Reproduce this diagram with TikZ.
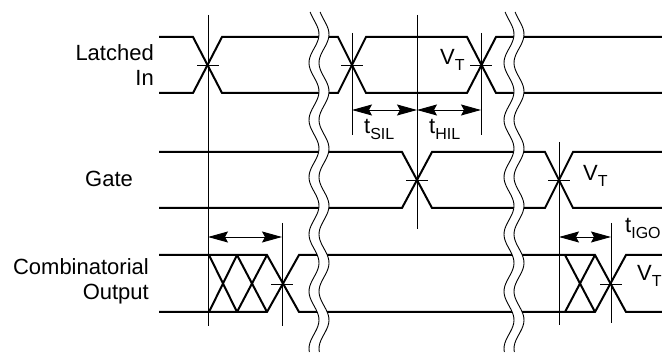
\documentclass[tikz,border=0pt]{standalone}
\usepackage{fontspec}
\setmainfont{Liberation Sans}
\usetikzlibrary{arrows.meta}
\newcommand{\lowtext}[1]{\raisebox{-6pt}{\fontsize{16}{16}\selectfont #1}}
\begin{document}
\begin{tikzpicture}[x=1pt,y=-1pt,
  sig/.style={line width=2pt, line join=miter},
  guide/.style={line width=0.9pt},
  dimarrow/.style={line width=0.9pt, {Stealth[length=20pt,width=11pt,inset=3pt]}-{Stealth[length=20pt,width=11pt,inset=3pt]}},
  lbl/.style={font=\fontsize{22}{25}\selectfont, inner sep=0pt},
  vt/.style={font=\fontsize{22}{24}\selectfont, inner sep=0pt, anchor=base west},
  wave/.style={line width=0.9pt}]
\useasboundingbox (0,0) rectangle (662,355);

% ---------- labels ----------
\node[lbl, align=right, anchor=east] (lin) at (154,65) {Latched\\In};
\node[lbl] (gate) at (109,179) {Gate};
\node[lbl, align=right, anchor=east] (cout) at (149,281) {Combinatorial\\Output};

% ---------- Latched In ----------
\draw[sig] (159,37)--(193,37)--(222,93)--(338,93)--(366,37)--(467,37)--(496,93)--(662,93);
\draw[sig] (159,93)--(193,93)--(222,37)--(338,37)--(366,93)--(467,93)--(496,37)--(662,37);

% ---------- Gate ----------
\draw[sig] (159,152)--(402,152)--(432,208)--(545,208)--(573,152)--(662,152);
\draw[sig] (159,208)--(402,208)--(432,152)--(545,152)--(573,208)--(662,208);

% ---------- Combinatorial Output ----------
\draw[sig] (159,255)--(267,255)--(299,312)--(595,312)--(626,255)--(662,255);
\draw[sig] (159,312)--(267,312)--(299,255)--(595,255)--(626,312)--(662,312);
\draw[sig] (209,255)--(237,312) (209,312)--(237,255) (237,255)--(267,312) (237,312)--(267,255);
\draw[sig] (565,255)--(595,312) (565,312)--(595,255);

% ---------- reference lines ----------
\coordinate (a1) at (208,15);  \coordinate (a2) at (208,326);
\coordinate (b1) at (352,33);  \coordinate (b2) at (352,135);
\coordinate (c1) at (417,15);  \coordinate (c2) at (417,229);
\coordinate (d1) at (481,33);  \coordinate (d2) at (481,135);
\coordinate (e1) at (282,223); \coordinate (e2) at (282,326);
\coordinate (f1) at (559,142); \coordinate (f2) at (559,325);
\coordinate (g1) at (611,223); \coordinate (g2) at (611,323);
\foreach \p in {a,b,c,d,e,f,g} \draw[guide] (\p1)--(\p2);

% crossing ticks
\foreach \x/\y in {208/65,352/65,481/65,417/180,559/180,282/284,611/284}
  \draw[guide] (\x-11,\y)--(\x+11,\y);

% ---------- dimension arrows ----------
\coordinate (s1) at (352,110); \coordinate (s2) at (417,110); \coordinate (s3) at (481,110);
\draw[dimarrow] (s1)--(s2);
\draw[dimarrow] (s2)--(s3);
\coordinate (p1) at (208,237); \coordinate (p2) at (282,237);
\draw[dimarrow] (p1)--(p2);
\coordinate (q1) at (559,237); \coordinate (q2) at (611,237);
\draw[dimarrow] (q1)--(q2);

% ---------- timing labels ----------
\node[vt] (vt1) at (440,65) {V\lowtext{T}};
\node[vt] (tsil) at (364,134) {t\lowtext{SIL}};
\node[vt] (thil) at (429,134) {t\lowtext{HIL}};
\node[vt] (vt2) at (583,181) {V\lowtext{T}};
\node[vt] (tigo) at (625,233) {t\lowtext{IGO}};
\node[vt] (vt3) at (637,281) {V\lowtext{T}};

% ---------- break marks ----------
\foreach \c in {319,514}{
  \fill[white] plot[domain=12:352, samples=120, smooth] ({\c-5+5*sin(6.3*(\x-20))},\x)
     -- plot[domain=352:12, samples=120, smooth] ({\c+5+5*sin(6.3*(\x-20))},\x) -- cycle;
  \draw[wave] plot[domain=12:352, samples=120, smooth] ({\c-5+5*sin(6.3*(\x-20))},\x);
  \draw[wave] plot[domain=12:352, samples=120, smooth] ({\c+5+5*sin(6.3*(\x-20))},\x);
}
\end{tikzpicture}
\end{document}
